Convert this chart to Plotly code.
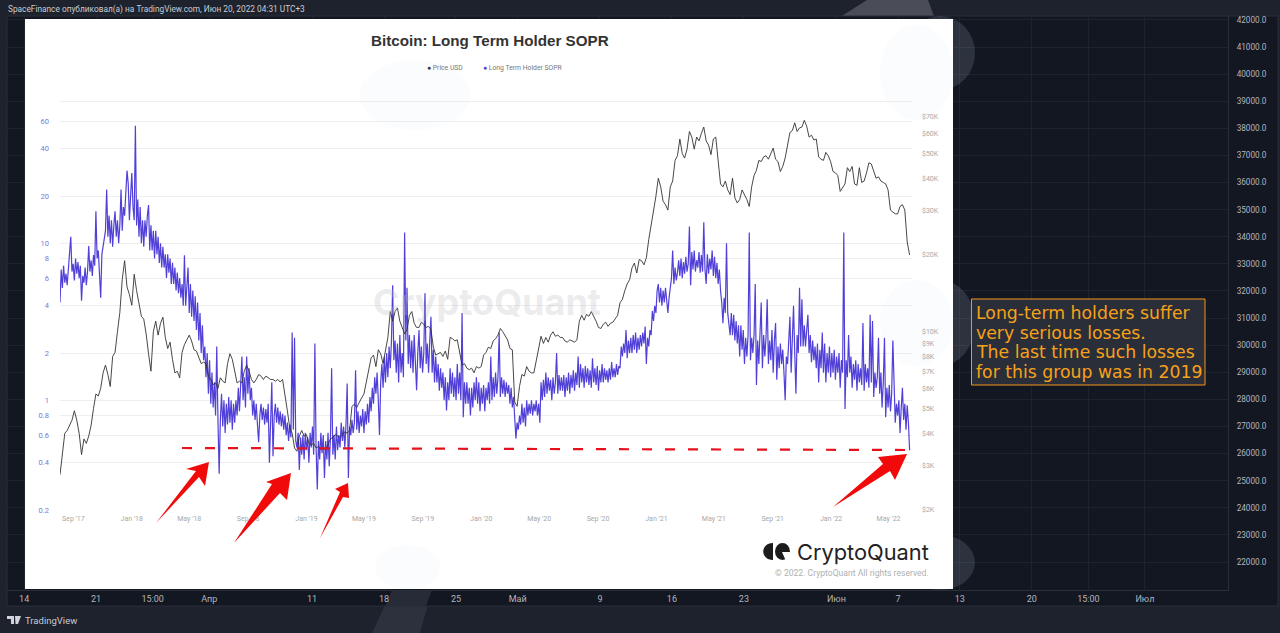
import pandas as pd
import numpy as np
import plotly.graph_objects as go

W, H = 1280, 633

# =====================================================
# 1. Data
# =====================================================

# one value per 2.5 days
sopr = [
    4.2, 6.8, 5.2, 7.2, 5.6, 6.4, 5.4, 7.0, 7.8, 11, 6.6, 7.4, 5.8, 8.0, 6.4, 7.6, 6.0, 7.2, 4.3, 6.2,
    5.6, 7.0, 5.4, 6.6, 9.6, 6.6, 7.8, 6.2, 8.4, 7.2, 16, 8.0, 9.0, 6.8, 4.5, 8.5, 9.5, 11, 12, 22,
    11, 15, 10, 14, 9.5, 13, 16, 11, 14, 10, 13, 22, 12, 17, 15, 21, 29, 24, 14, 20,
    28, 17, 14, 56, 13, 19, 11, 17, 10, 14, 9.5, 14, 11, 15, 17.5, 9, 13, 9, 12, 8,
    12, 8.5, 11, 7.5, 10, 7, 9.5, 7, 8.5, 6, 8.5, 6.5, 8, 5.5, 7.5, 5.5, 7, 5, 6.5, 4.8,
    6, 4.5, 5.5, 4, 8.4, 4, 5.5, 7, 3.6, 5.5, 3.4, 5, 3.2, 4.6, 2.8, 4.2, 2.4, 3.6, 2.0, 3.0,
    1.8, 2.2, 1.4, 2.0, 1.1, 1.8, 0.95, 1.5, 0.9, 1.3, 0.8, 2.2, 0.75, 0.34, 0.75, 1.1, 0.68, 1.0, 0.62, 0.95,
    0.7, 1.05, 0.72, 1.0, 0.65, 0.95, 0.72, 1.0, 0.8, 1.2, 0.85, 1.3, 1.9, 1.0, 1.4, 0.9, 1.9, 1.1, 1.6, 1.0,
    1.2, 0.8, 1.0, 0.75, 0.95, 0.7, 0.54, 0.8, 0.95, 0.75, 0.9, 0.7, 0.88, 0.72, 0.95, 0.4, 0.85, 1.3, 0.44, 0.8,
    0.95, 0.72, 0.9, 0.7, 0.85, 0.68, 0.82, 0.65, 0.8, 0.6, 0.72, 0.55, 0.7, 0.58, 2.7, 0.65, 2.5, 0.55, 0.5, 0.62,
    0.36, 0.58, 0.45, 0.6, 0.42, 0.62, 0.48, 0.58, 0.4, 0.62, 0.5, 0.68, 0.45, 2.3, 0.5, 0.27, 0.55, 0.42, 0.62, 0.46,
    0.6, 0.32, 0.55, 0.42, 0.62, 0.38, 0.58, 1.6, 0.45, 0.6, 0.42, 0.68, 0.48, 0.6, 0.5, 0.72, 0.55, 0.68, 0.5, 0.7,
    1.28, 0.32, 0.68, 0.6, 0.75, 0.62, 0.72, 1.55, 0.65, 0.85, 0.62, 0.8, 0.68, 0.88, 0.62, 0.85, 0.7, 0.95, 0.72, 1.05,
    0.85, 1.2, 0.95, 1.4, 1.1, 1.5, 1.0, 0.6, 1.3, 1.7, 1.2, 1.9, 1.3, 2.0, 1.4, 2.2, 1.6, 2.4, 5.4, 1.8,
    2.4, 1.5, 2.3, 1.3, 2.6, 1.5, 2.0, 1.4, 11.7, 2.4, 5.2, 1.7, 2.6, 1.6, 2.4, 1.5, 2.6, 1.7, 1.16, 2.0,
    2.8, 1.6, 2.2, 1.5, 2.0, 4.8, 1.7, 2.3, 1.5, 2.4, 3.4, 1.5, 2.1, 1.3, 1.9, 1.3, 1.7, 1.15, 1.6, 1.2,
    1.5, 1.0, 1.4, 0.86, 1.3, 1.0, 1.6, 1.1, 1.5, 1.05, 1.4, 1.0, 1.7, 1.1, 1.5, 1.0, 3.6, 0.78, 1.3, 0.95,
    1.3, 0.95, 1.2, 0.8, 1.2, 0.9, 1.3, 1.0, 1.4, 0.95, 1.3, 0.85, 1.2, 0.95, 1.25, 0.85, 1.2, 1.0, 1.3, 0.95,
    1.9, 1.0, 1.4, 1.05, 1.5, 1.1, 1.4, 2.7, 1.05, 1.4, 1.1, 1.35, 1.05, 1.3, 1.1, 1.25, 0.95, 1.2, 0.9, 1.05,
    0.75, 0.57, 0.72, 0.65, 0.8, 0.7, 0.95, 0.72, 0.9, 0.68, 1.0, 0.8, 0.95, 0.82, 1.0, 0.8, 0.95, 0.85, 1.0, 0.8,
    0.95, 0.72, 1.3, 1.0, 1.35, 1.05, 1.5, 1.1, 1.4, 1.15, 1.35, 1.0, 1.4, 1.1, 1.3, 2.0, 1.1, 1.45, 1.15, 1.4,
    1.15, 1.45, 1.05, 1.4, 1.15, 1.5, 1.1, 1.45, 1.2, 1.55, 1.15, 1.5, 1.25, 1.9, 1.2, 1.7, 1.3, 1.6, 1.2, 1.65,
    1.3, 1.6, 1.25, 1.55, 1.2, 1.85, 1.3, 1.6, 1.25, 1.65, 1.15, 1.55, 1.3, 1.7, 1.3, 1.6, 1.35, 1.55, 1.3, 1.6,
    1.35, 1.75, 1.4, 1.6, 1.4, 1.7, 1.45, 1.65, 1.6, 2.2, 1.9, 2.3, 2.0, 2.8, 1.85, 2.4, 2.0, 2.5, 2.0, 2.6,
    2.1, 2.7, 2.0, 2.5, 2.1, 2.6, 2.2, 2.7, 2.3, 2.95, 1.7, 2.5, 2.2, 2.8, 2.6, 3.7, 3.2, 4.0, 3.6, 5.0,
    5.5, 4.2, 5.2, 4.0, 5.0, 4.2, 5.2, 4.2, 3.6, 4.5, 5.2, 6.0, 9.0, 5.5, 7.0, 5.8, 6.5, 7.8, 6.2, 8.0,
    6.0, 7.6, 6.4, 8.2, 6.6, 7.4, 12.8, 5.4, 8.8, 6.8, 9.0, 6.6, 7.8, 7.0, 8.8, 6.5, 8.4, 6.6, 13.6, 6.8,
    5.5, 8.5, 6.4, 8.0, 6.8, 9.0, 6.2, 8.2, 6.0, 7.5, 5.5, 6.8, 5.0, 4.2, 3.1, 4.5, 3.6, 10, 3.6, 3.0,
    2.6, 3.6, 2.6, 3.5, 2.4, 3.2, 2.3, 3.0, 1.9, 3.0, 2.1, 2.8, 1.7, 2.5, 1.9, 2.6, 11.7, 1.8, 2.5, 2.0,
    2.6, 5.5, 1.25, 2.4, 1.7, 2.7, 4.2, 1.6, 2.6, 1.9, 2.5, 4.4, 1.7, 2.4, 1.8, 2.8, 1.5, 2.4, 3.1, 1.35,
    2.2, 1.6, 2.3, 1.7, 2.1, 1.5, 1.0, 1.9, 1.7, 2.4, 3.4, 1.5, 2.2, 4.0, 2.0, 1.1, 2.6, 2.0, 5.2, 2.2,
    4.4, 2.2, 3.0, 2.2, 2.8, 3.5, 2.0, 2.6, 1.75, 2.4, 1.8, 2.2, 1.6, 2.3, 1.3, 2.1, 1.6, 2.7, 1.5, 2.3,
    1.3, 2.0, 1.5, 2.2, 1.4, 2.0, 1.5, 2.1, 1.35, 1.9, 1.5, 2.0, 1.2, 1.8, 1.5, 11.7, 0.88, 1.8, 1.4, 2.6,
    1.5, 1.9, 1.2, 1.7, 1.35, 1.8, 1.15, 1.7, 1.3, 1.6, 1.25, 3.1, 1.15, 1.7, 1.3, 1.6, 1.2, 3.5, 1.3, 3.2,
    1.05, 1.5, 1.2, 1.4, 2.5, 1.1, 1.5, 0.9, 1.3, 2.5, 0.78, 1.2, 0.9, 1.25, 0.85, 1.1, 2.4, 1.0, 0.72, 0.95,
    0.8, 1.0, 0.62, 0.9, 1.2, 0.75, 0.95, 0.65, 0.93, 0.72, 0.48,
]

# one value per 5 days
price_usd = [
    2750, 3350, 4000, 4100, 4300, 4500, 4900, 4500, 4000, 3300, 3800, 3650,
    3900, 4300, 5000, 5700, 5600, 6000, 6900, 7400, 6800, 6100, 8000, 8300,
    10000, 11900, 16000, 19000, 15000, 14000, 12700, 16800, 14500, 13000, 11500, 11200,
    9800, 8200, 7000, 10000, 11000, 9700, 10800, 11400, 9500, 8600, 9100, 7800,
    6900, 7000, 6600, 8300, 8900, 9300, 9700, 9200, 8500, 8400, 8000, 7500,
    7600, 7500, 6700, 6500, 6200, 6300, 6000, 6600, 6400, 6300, 7500, 8200,
    7800, 7000, 6300, 6400, 6300, 7000, 7400, 7000, 6500, 6300, 6500, 6800,
    6700, 6500, 6700, 6600, 6500, 6500, 6400, 6500, 6350, 6500, 5700, 4900,
    4200, 4000, 3500, 3400, 3900, 4100, 3900, 3950, 3650, 3600, 3650, 3500,
    3550, 3450, 3500, 3450, 3600, 3800, 3850, 3950, 3900, 3850, 3950, 4050,
    4000, 4100, 5100, 5200, 5050, 5300, 5500, 5700, 6400, 7200, 7900, 8100,
    7300, 8500, 8200, 7500, 8400, 9500, 12000, 11000, 12000, 12400, 11000, 10300,
    9800, 10200, 11600, 12000, 10800, 10400, 10400, 10900, 10700, 10400, 10500, 10200,
    8700, 8100, 8200, 8300, 8000, 8400, 7800, 9500, 9400, 9200, 9300, 8400,
    7400, 7500, 7200, 7100, 7200, 6900, 7300, 7200, 7300, 8100, 8300, 8700,
    8600, 9200, 9400, 9700, 10300, 10000, 9700, 9300, 8600, 8500, 5300, 5100,
    6100, 6800, 6700, 7300, 7000, 6900, 6900, 7700, 8800, 9600, 9000, 9500,
    9100, 9700, 10000, 9600, 9700, 9500, 9500, 9200, 9100, 9300, 9200, 9100,
    9300, 11000, 11600, 11100, 11700, 11500, 12000, 11500, 11000, 10400, 10300, 10700,
    10900, 10500, 10800, 10900, 11200, 11600, 13000, 13400, 14500, 15400, 16000, 17800,
    18600, 17000, 19200, 19000, 18300, 19500, 23000, 26000, 29000, 34000, 40000, 37000,
    32500, 31500, 30000, 37000, 39000, 47000, 49000, 57000, 50000, 48000, 52000, 61000,
    58000, 52000, 58000, 56000, 60000, 63500, 56000, 54000, 49500, 57000, 58000, 46000,
    38000, 37000, 39000, 36000, 34500, 40000, 33500, 32000, 33000, 36000, 34500, 33000,
    31000, 37000, 41000, 43000, 47000, 46500, 48500, 49000, 47500, 50000, 52500, 47500,
    46500, 42500, 44500, 48000, 55000, 60500, 61500, 66000, 61000, 63000, 63500, 67500,
    64000, 58000, 59000, 56500, 57000, 48500, 47500, 47000, 50500, 49000, 46500, 42500,
    42000, 41000, 35500, 37000, 38000, 44000, 42500, 44500, 38000, 37500, 44000, 38500,
    39000, 42000, 46000, 45500, 43000, 40000, 40500, 39000, 38500, 38000, 36000, 30000,
    29500, 29000, 29000, 31000, 31500, 30000, 22500, 20000,
]

sopr_dates = pd.date_range("2017-08-04", periods=len(sopr), freq="60h")
price_dates = pd.date_range("2017-08-04", periods=len(price_usd), freq="5D")

sopr_ticks = [0.2, 0.4, 0.6, 0.8, 1, 2, 4, 6, 8, 10, 20, 40, 60, 80]
sopr_labels = ["0.2", "0.4", "0.6", "0.8", "1", "2", "4", "6", "8", "10", "20", "40", "60", ""]
price_ticks = [2000, 3000, 4000, 5000, 6000, 7000, 8000, 9000, 10000,
               20000, 30000, 40000, 50000, 60000, 70000]
price_labels = ["$2K", "$3K", "$4K", "$5K", "$6K", "$7K", "$8K", "$9K", "$10K",
                "$20K", "$30K", "$40K", "$50K", "$60K", "$70K"]

tv_dates = ["2022-03-14", "2022-03-21", "2022-03-26 12:00", "2022-04-01", "2022-04-11",
            "2022-04-18", "2022-04-25", "2022-05-01", "2022-05-09", "2022-05-16",
            "2022-05-23", "2022-06-01", "2022-06-07", "2022-06-13", "2022-06-20",
            "2022-06-25 12:00", "2022-07-01"]
tv_labels = ["14", "21", "15:00", "Апр", "11", "18", "25", "Май", "9", "16",
             "23", "Июн", "7", "13", "20", "15:00", "Июл"]
tv_prices = list(range(22000, 43000, 1000))

note_lines = ["Long-term holders suffer", "very serious losses.",
              "The last time such losses", "for this group was in 2019"]

# =====================================================
# 2. Pixel helpers for the pasted-image look
# =====================================================

# background TradingView pane in pixels and in its own axis units
PANE_L, PANE_R, PANE_T, PANE_B = 7, 1228, 16, 590
PANE_START = pd.Timestamp("2022-03-12 08:00")
PANE_END = pd.Timestamp("2022-07-09 02:00")
PANE_LOW, PANE_HIGH = 20967, 42144

def fx(px):
    return px / W

def fy(py):
    return 1 - py / H

def pane_x(px):
    return str(PANE_START + (PANE_END - PANE_START) * ((px - PANE_L) / (PANE_R - PANE_L)))

def pane_y(py):
    return PANE_LOW + (PANE_HIGH - PANE_LOW) * ((PANE_B - py) / (PANE_B - PANE_T))

def poly(points, color, layer="above"):
    path = "M " + " L ".join(f"{fx(x):.5f},{fy(y):.5f}" for x, y in points) + " Z"
    return dict(type="path", xref="paper", yref="paper", path=path,
                fillcolor=color, line_width=0, layer=layer)

def pane_rect(x0, y0, x1, y1, color, kind="rect"):
    # sits above the pane grid, under the inner chart
    return dict(type=kind, xref="x", yref="y", layer="between",
                x0=pane_x(x0), x1=pane_x(x1), y0=pane_y(y0), y1=pane_y(y1),
                fillcolor=color, line_width=0)

def paper_rect(x0, y0, x1, y1, color, layer="below", kind="rect", line=None):
    return dict(type=kind, xref="paper", yref="paper", layer=layer,
                x0=fx(x0), x1=fx(x1), y0=fy(y0), y1=fy(y1), fillcolor=color,
                line=line or dict(width=0))

# =====================================================
# 3. Figure
# =====================================================

fig = go.Figure()

# empty trace just to switch on the background pane axes
fig.add_trace(go.Scatter(x=tv_dates, y=[None] * len(tv_dates), xaxis="x", yaxis="y",
                         showlegend=False, hoverinfo="skip"))

fig.add_trace(go.Scatter(x=sopr_dates, y=sopr, name="Long Term Holder SOPR", xaxis="x2", yaxis="y2",
                         mode="lines", line=dict(color="#5040d8", width=1.2), showlegend=False))
fig.add_trace(go.Scatter(x=price_dates, y=price_usd, name="Price USD", xaxis="x2", yaxis="y3",
                         mode="lines", line=dict(color="#333333", width=0.9), showlegend=False))

red = "#f00a0a"
whale_dark = "rgba(150,160,180,0.2)"
whale_light = "rgba(215,228,245,0.12)"

shapes = [
    # page-level whale pieces first, so the pane and its labels stay on top
    poly([(372, 633), (392, 590), (432, 590), (420, 633)], "#2c313d", layer="below"),
    poly([(837, 19), (867, 0), (928, 0), (935, 19)], "#4a4d58", layer="below"),
    paper_rect(PANE_L, 16, 1278, 606, "#131722", line=dict(color="#2a2e39", width=1)),
    poly([(385, 606), (392, 590), (432, 590), (426, 606)], "#262b37", layer="below"),
    pane_rect(905, 16, 975, 90, whale_dark, "circle"),
    pane_rect(905, 280, 975, 366, whale_dark, "circle"),
    pane_rect(905, 535, 975, 590, whale_dark, "circle"),
    pane_rect(25, 19, 953, 589, "#ffffff"),
    pane_rect(360, 60, 470, 130, whale_light, "circle"),
    pane_rect(880, 25, 953, 120, whale_light, "circle"),
    pane_rect(880, 280, 953, 366, whale_light, "circle"),
    pane_rect(375, 545, 440, 589, whale_light, "circle"),
    # dashed level
    dict(type="line", xref="paper", yref="paper", layer="above",
         x0=fx(182), y0=fy(448), x1=fx(908), y1=fy(450),
         line=dict(color="#e8101a", width=2.2, dash="10px,13px")),
    # arrows
    poly([(156, 523), (196, 471), (186, 469), (209, 462), (205, 486), (199, 477)], red),
    poly([(234, 543), (272, 484), (266, 482), (291, 473), (287, 500), (280, 493)], red),
    poly([(320, 538), (340, 492), (335, 489), (348, 483), (349, 498), (343, 497)], red),
    poly([(833, 507), (883, 464), (878, 457), (907, 454), (895, 480), (890, 471)], red),
    # CryptoQuant mark
    dict(type="path", xref="paper", yref="paper", layer="above", fillcolor="#1c1c1c", line_width=0,
         path=f"M {fx(773):.5f},{fy(543):.5f} C {fx(760):.5f},{fy(543):.5f} {fx(760):.5f},{fy(560):.5f} "
              f"{fx(773):.5f},{fy(560):.5f} Z"),
    paper_rect(775, 543, 790, 560, "#1c1c1c", layer="above", kind="circle"),
    poly([(782, 552), (791, 552), (791, 561), (786, 561)], "#ffffff"),
    # note box
    paper_rect(971.5, 299, 1205, 385, "#2a2e39", layer="above",
               line=dict(color="#f7931a", width=1)),
    # TradingView mark
    poly([(7, 616), (14, 616), (14, 624), (11, 624), (11, 619), (7, 619)], "#d1d4dc"),
    poly([(15, 616), (21, 616), (18, 624), (15.5, 624)], "#d1d4dc"),
]

annotations = [
    dict(text="SpaceFinance опубликовал(а) на TradingView.com, Июн 20, 2022 04:31 UTC+3",
         x=fx(6), y=fy(10), xanchor="left", font=dict(family="Roboto", size=8.3, color="#c9ccd4")),
    dict(text="<b>Bitcoin: Long Term Holder SOPR</b>", x=fx(489.5), y=fy(41), xanchor="center",
         font=dict(family="Liberation Sans", size=15.2, color="#333333")),
    dict(text="<span style='color:#333333'>●</span> Price USD", x=fx(425), y=fy(68), xanchor="left",
         font=dict(family="Roboto", size=6.8, color="#777777")),
    dict(text="<span style='color:#4f3fd8'>●</span> Long Term Holder SOPR", x=fx(481), y=fy(68), xanchor="left",
         font=dict(family="Roboto", size=6.8, color="#777777")),
    dict(text="<b>CryptoQuant</b>", x=fx(487), y=fy(302), xanchor="center",
         font=dict(family="Inter", size=36, color="rgba(190,190,195,0.3)")),
    dict(text="CryptoQuant", x=fx(931), y=fy(552), xanchor="right",
         font=dict(family="Inter", size=21.8, color="#222222")),
    dict(text="© 2022. CryptoQuant All rights reserved.", x=fx(931), y=fy(573), xanchor="right",
         font=dict(family="Roboto", size=8.6, color="#b0b0b0")),
    dict(text="TradingView", x=fx(23), y=fy(620), xanchor="left",
         font=dict(family="Roboto", size=9.5, color="#c9ccd4")),
]
for line_text, py in zip(note_lines, [313, 332.5, 352, 371.5]):
    annotations.append(dict(text=line_text, x=fx(973.5), y=fy(py), xanchor="left",
                            font=dict(family="DejaVu Sans", size=17.3, color="#f7a11a")))
for a in annotations:
    a.update(xref="paper", yref="paper", showarrow=False, yanchor="middle")

fig.update_layout(
    width=W, height=H, autosize=False,
    margin=dict(l=0, r=0, t=0, b=0),
    paper_bgcolor="#1e222d", plot_bgcolor="rgba(0,0,0,0)",
    showlegend=False,
    shapes=shapes, annotations=annotations,
    xaxis=dict(domain=[fx(PANE_L), fx(PANE_R)], anchor="y", type="date", automargin=False,
               range=[str(PANE_START), str(PANE_END)],
               tickvals=tv_dates, ticktext=tv_labels, ticklen=0, tickangle=0,
               tickfont=dict(family="Roboto", size=9, color="#b2b5be"),
               showgrid=True, gridcolor="#1f232e", gridwidth=1,
               showline=True, linecolor="#2a2e39", zeroline=False),
    yaxis=dict(domain=[fy(PANE_B), fy(PANE_T)], anchor="x", side="right", automargin=False,
               range=[PANE_LOW, PANE_HIGH], tickvals=tv_prices,
               ticktext=[f"{p}.0" for p in tv_prices], ticklen=0, ticklabelstandoff=6,
               tickfont=dict(family="Roboto", size=8.2, color="#b2b5be"),
               showgrid=True, gridcolor="#1f232e", gridwidth=1,
               showline=True, linecolor="#2a2e39", zeroline=False),
    xaxis2=dict(domain=[fx(60), fx(912)], anchor="y2", type="date", automargin=False,
                range=["2017-08-04", "2022-06-19"],
                tick0="2017-09-01", dtick="M4", tickformat="%b '%y", ticklen=0, ticklabelstandoff=3,
                tickfont=dict(family="Roboto", size=7, color="#a8a8a8"),
                showgrid=False, showline=False, zeroline=False),
    yaxis2=dict(domain=[fy(510), fy(100)], anchor="x2", type="log", automargin=False,
                range=[np.log10(0.2), np.log10(0.2) + 410 / 157],
                tickvals=sopr_ticks, ticktext=sopr_labels, ticklen=0, ticklabelstandoff=10,
                tickfont=dict(family="Roboto", size=7.5, color="#7d76d8"),
                showgrid=True, gridcolor="#eeeeee", gridwidth=1, showline=False, zeroline=False),
    yaxis3=dict(domain=[fy(510), fy(100)], anchor="x2", overlaying="y2", side="right", type="log",
                automargin=False, range=[np.log10(2000), np.log10(2000) + 410 / 255],
                tickvals=price_ticks, ticktext=price_labels, ticklen=0, ticklabelstandoff=9,
                tickfont=dict(family="Roboto", size=7, color="#a8a8a8"),
                showgrid=False, showline=False, zeroline=False),
)

fig.write_html("out.html", config=dict(displayModeBar=False),
               post_script="document.body.style.margin='0';")
